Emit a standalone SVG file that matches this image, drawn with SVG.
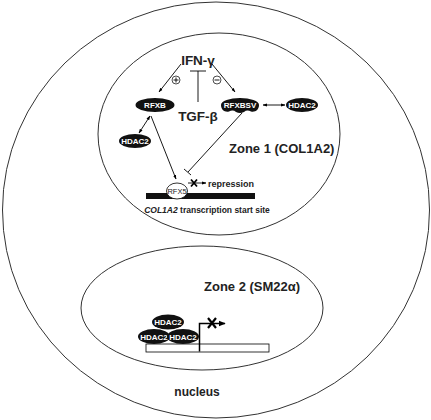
<svg xmlns="http://www.w3.org/2000/svg" width="431" height="420" viewBox="0 0 431 420">
<defs>
<marker id="ah" viewBox="0 0 10 10" refX="9" refY="5" markerWidth="4.5" markerHeight="4.5" orient="auto-start-reverse" markerUnits="userSpaceOnUse">
<path d="M0,1.5 L10,5 L0,8.5 Z" fill="#000"/>
</marker>
<marker id="ahb" viewBox="0 0 10 10" refX="9" refY="5" markerWidth="7" markerHeight="7" orient="auto" markerUnits="userSpaceOnUse">
<path d="M0,1 L10,5 L0,9 Z" fill="#000"/>
</marker>
<style>
.ln{stroke:#000;stroke-width:0.9;fill:none}
.zone{stroke:#333;stroke-width:1;fill:none}
.blk{fill:#111}
.wl{font-family:"Liberation Sans",Arial,sans-serif;font-weight:bold;font-size:8px;fill:#fff;text-anchor:middle}
.t{font-family:"Liberation Sans",Arial,sans-serif;font-weight:bold;fill:#222}
</style>
</defs>
<rect width="431" height="420" fill="#fff"/>
<g id="nucleus">
<ellipse class="zone" cx="216" cy="210" rx="213.5" ry="208"/>
<text class="t" x="197" y="396" font-size="12" text-anchor="middle">nucleus</text>
</g>
<g id="zone1">
<ellipse class="zone" cx="219" cy="134" rx="121" ry="101"/>
<text class="t" x="229" y="153" font-size="13">Zone 1 (COL1A2)</text>
</g>
<g id="zone2">
<ellipse class="zone" cx="202" cy="308" rx="121" ry="62"/>
<text class="t" x="204" y="291" font-size="13">Zone 2 (SM22α)</text>
</g>
<g id="ifng"><text class="t" x="198" y="65" font-size="13.5" text-anchor="middle">IFN-γ</text></g>
<g id="tgfb"><text class="t" x="198" y="121" font-size="13.5" text-anchor="middle">TGF-β</text></g>
<g id="plus">
<circle cx="176" cy="80" r="4" fill="#fff" stroke="#000" stroke-width="0.7"/>
<path class="ln" d="M173.5,80 H178.5 M176,77.5 V82.5" stroke-width="0.7"/>
</g>
<g id="minus">
<circle cx="217" cy="80" r="4" fill="#fff" stroke="#000" stroke-width="0.7"/>
<path class="ln" d="M214.5,80 H219.5" stroke-width="0.8"/>
</g>
<g id="rfxb">
<ellipse class="blk" cx="155" cy="105" rx="19.5" ry="7"/>
<text class="wl" x="155" y="108">RFXB</text>
</g>
<g id="rfxbsv">
<path class="blk" d="M221,105 A19,7 0 0 1 259,105 C259,110 255,112.5 251,111.5 Q247,109.5 244,112 Q240,114 236,112 Q233,109.5 229,111.5 C225,112.5 221,110 221,105 Z"/>
<text class="wl" x="240" y="108">RFXBSV</text>
</g>
<g id="hdac2-right">
<ellipse class="blk" cx="302" cy="105" rx="16" ry="7"/>
<text class="wl" x="302" y="108">HDAC2</text>
</g>
<g id="hdac2-left">
<ellipse class="blk" cx="135" cy="141" rx="16" ry="7"/>
<text class="wl" x="135" y="144">HDAC2</text>
</g>
<g id="gene1">
<rect x="146" y="193" width="109" height="6" fill="#111"/>
<text class="t" x="207" y="213" font-size="8.5" text-anchor="middle"><tspan font-style="italic">COL1A2</tspan> transcription start site</text>
</g>
<g id="rfx5">
<ellipse cx="177" cy="191" rx="10.5" ry="8" fill="#fff" stroke="#000" stroke-width="0.8"/>
<text x="177" y="194" font-family="Liberation Sans,Arial,sans-serif" font-size="7.5" fill="#222" text-anchor="middle">RFX5</text>
</g>
<g id="repression">
<text class="t" x="208" y="187" font-size="9">repression</text>
</g>
<g id="gene2">
<rect x="146" y="344" width="123" height="8" fill="#fff" stroke="#000" stroke-width="0.8"/>
</g>
<g id="hdac2-z2-top">
<ellipse class="blk" cx="168" cy="322" rx="16" ry="7.5"/>
<text class="wl" x="168" y="325">HDAC2</text>
</g>
<g id="hdac2-z2-left">
<ellipse class="blk" cx="154" cy="336.5" rx="16" ry="7.5"/>
<text class="wl" x="154" y="339.5">HDAC2</text>
</g>
<g id="hdac2-z2-right">
<ellipse class="blk" cx="183" cy="336.5" rx="16" ry="7.5"/>
<text class="wl" x="183" y="339.5">HDAC2</text>
</g>
<g id="connectors">
<line class="ln" x1="181" y1="64" x2="159" y2="92" marker-end="url(#ah)"/>
<line class="ln" x1="212" y1="64" x2="235" y2="92" marker-end="url(#ah)"/>
<path class="ln" d="M198,102 V71 M190,71 H206" stroke-width="1"/>
<line class="ln" x1="263" y1="105" x2="285" y2="105" marker-start="url(#ah)" marker-end="url(#ah)"/>
<line class="ln" x1="150" y1="116" x2="139" y2="133" marker-start="url(#ah)" marker-end="url(#ah)"/>
<line class="ln" x1="151" y1="116" x2="176" y2="179" marker-end="url(#ah)"/>
<path class="ln" d="M242,113 L188,172 M184,169 L191,175"/>
<line class="ln" x1="188" y1="183" x2="206" y2="183" marker-end="url(#ah)"/>
<path d="M191,179.5 L197,186.5 M197,179.5 L191,186.5" stroke="#000" stroke-width="1.8" fill="none"/>
<path d="M199.5,351.5 V323.5 H225" stroke="#000" stroke-width="1.5" fill="none" marker-end="url(#ahb)"/>
<path d="M208,318 L216,328 M216,318 L208,328" stroke="#000" stroke-width="2.2" fill="none"/>
</g>
</svg>
